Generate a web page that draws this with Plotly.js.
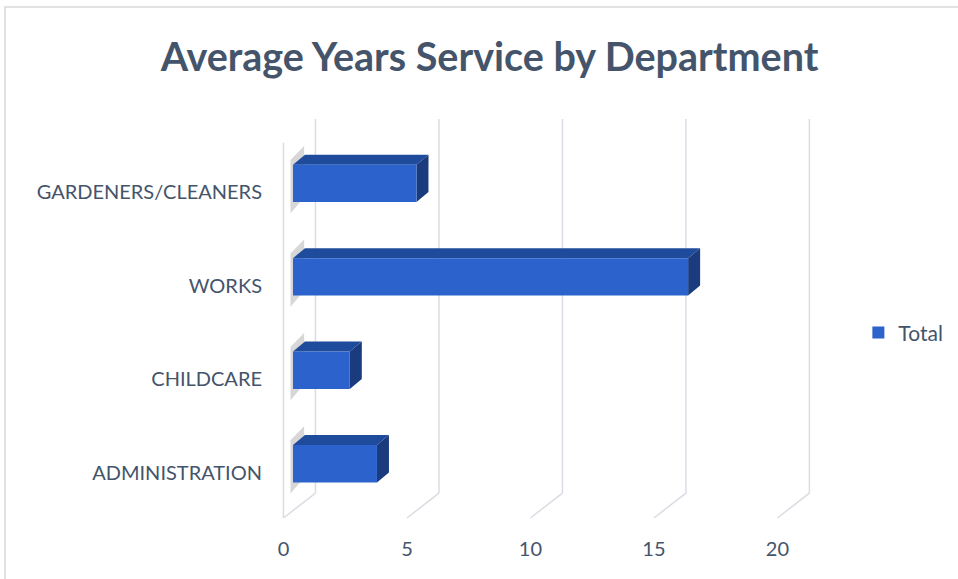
<!DOCTYPE html>
<html>
<head>
<meta charset="utf-8">
<script src="https://cdn.plot.ly/plotly-3.0.1.min.js"></script>
<style>html,body{margin:0;padding:0;background:#fff;}#chart{width:958px;height:579px;}</style>
</head>
<body>
<div id="chart"></div>
<script>
const categories = ['ADMINISTRATION', 'CHILDCARE', 'WORKS', 'GARDENERS/CLEANERS'];
const totals = [3.4, 2.3, 16.0, 5.0];
const tickValues = [0, 5, 10, 15, 20];
const tickLabels = ['0', '5', '10', '15', '20'];
const seriesName = 'Total';
const chartTitle = 'Average Years Service by Department';

const textColor = '#44546A';
const gridColor = '#D9DCE3';
const frontColor = '#2B62CC';
const topColor = '#1F4B9C';
const sideColor = '#1A3C7E';

// 3D look parameters (axis units)
const barW = 0.4;
const dx = 0.486, dy = 0.107;      // bar depth
const frontOff = -0.385, backOff = 0.911; // floor front/back offset
const floorBack = -0.314, floorFront = -0.581, wallTop = 3.69, frontTop = 3.434;
const xRange = [-0.931, 22.15];
const yRange = [-0.624, 3.70];

const idx = categories.map((c, i) => i);

const shapes = [];
// border of the chart area
shapes.push({type: 'rect', xref: 'paper', yref: 'paper', x0: -0.465, x1: 1.4, y0: -0.3, y1: 1.275,
  line: {color: '#D9D9D9', width: 1.5}, fillcolor: 'rgba(0,0,0,0)', layer: 'below'});
// left wall front edge
shapes.push({type: 'line', xref: 'x', yref: 'y', x0: frontOff, x1: frontOff, y0: floorFront, y1: frontTop,
  line: {color: gridColor, width: 1.5}, layer: 'below'});
tickValues.forEach(v => {
  shapes.push({type: 'line', xref: 'x', yref: 'y', x0: v + backOff, x1: v + backOff, y0: floorBack, y1: wallTop,
    line: {color: gridColor, width: 1.5}, layer: 'below'});
  shapes.push({type: 'line', xref: 'x', yref: 'y', x0: v + backOff, x1: v + frontOff, y0: floorBack, y1: floorFront,
    line: {color: gridColor, width: 1.5}, layer: 'below'});
});
idx.forEach(i => {
  const v = totals[i];
  const t = i + barW / 2, b = i - barW / 2;
  // shadow on the wall
  shapes.push({type: 'path', xref: 'x', yref: 'y',
    path: `M ${-0.1} ${b - 0.12} L ${-0.1} ${t + 0.05} L ${0.45} ${t + 0.2} L ${0.45} ${b + 0.05} Z`,
    fillcolor: 'rgba(140,140,140,0.35)', line: {width: 0}, layer: 'below'});
  // top face
  shapes.push({type: 'path', xref: 'x', yref: 'y',
    path: `M 0 ${t} L ${v} ${t} L ${v + dx} ${t + dy} L ${dx} ${t + dy} Z`,
    fillcolor: topColor, line: {width: 0}, layer: 'below'});
  // side face
  shapes.push({type: 'path', xref: 'x', yref: 'y',
    path: `M ${v} ${b} L ${v} ${t} L ${v + dx} ${t + dy} L ${v + dx} ${b + dy} Z`,
    fillcolor: sideColor, line: {width: 0}, layer: 'below'});
});

const traces = [
  {type: 'bar', orientation: 'h', name: seriesName, y: idx, x: totals, width: barW,
   marker: {color: frontColor, line: {width: 0}}, hoverinfo: 'skip', showlegend: true},
  {type: 'scatter', mode: 'markers', x: tickValues, y: tickValues.map(() => 0), xaxis: 'x2', yaxis: 'y',
   marker: {opacity: 0}, showlegend: false, hoverinfo: 'skip'}
];

const layout = {
  width: 958, height: 579,
  paper_bgcolor: '#fff', plot_bgcolor: 'rgba(0,0,0,0)',
  margin: {l: 270, r: 118, t: 118, b: 57, autoexpand: false},
  title: {text: chartTitle, x: 0.511, xanchor: 'center', y: 0.902, yanchor: 'middle',
    font: {family: 'Lato, sans-serif', size: 39.5, color: textColor, weight: 'bold'}},
  font: {family: 'Lato, sans-serif', color: textColor},
  showlegend: true,
  legend: {xref: 'container', yref: 'container', x: 0.896, xanchor: 'left', y: 0.425, yanchor: 'middle',
    font: {size: 21, color: textColor}, bgcolor: 'rgba(0,0,0,0)', itemwidth: 30},
  xaxis: {range: xRange, showgrid: false, zeroline: false, showticklabels: false, showline: false, fixedrange: true},
  xaxis2: {range: [xRange[0] - frontOff, xRange[1] - frontOff], overlaying: 'x', anchor: 'y', side: 'bottom',
    tickvals: tickValues, ticktext: tickLabels, showgrid: false, zeroline: false, showline: false,
    ticks: 'outside', ticklen: 9, tickcolor: 'rgba(0,0,0,0)', tickfont: {size: 20, color: textColor}},
  yaxis: {range: yRange, tickvals: idx, ticktext: categories, showgrid: false, zeroline: false, showline: false,
    ticks: 'outside', ticklen: 3, tickcolor: 'rgba(0,0,0,0)', ticklabelshift: 9,
    tickfont: {size: 20, color: textColor}},
  shapes: shapes,
  hovermode: false
};

Plotly.newPlot('chart', traces, layout, {displayModeBar: false, staticPlot: true});
</script>
</body>
</html>
